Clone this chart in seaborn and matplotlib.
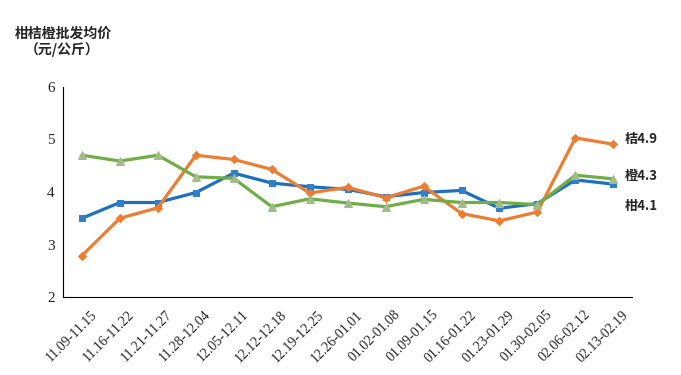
import pandas as pd
import matplotlib.pyplot as plt
import matplotlib.transforms as mtransforms
import seaborn as sns

# weekly periods
periods = ["11.09-11.15", "11.16-11.22", "11.21-11.27", "11.28-12.04", "12.05-12.11",
           "12.12-12.18", "12.19-12.25", "12.26-01.01", "01.02-01.08", "01.09-01.15",
           "01.16-01.22", "01.23-01.29", "01.30-02.05", "02.06-02.12", "02.13-02.19"]

# wholesale average prices (yuan/kg)
gan = [3.50, 3.80, 3.80, 3.99, 4.36, 4.17, 4.10, 4.05, 3.91, 3.99, 4.03, 3.69, 3.78, 4.23, 4.15]
ju = [2.79, 3.50, 3.70, 4.70, 4.62, 4.43, 3.98, 4.09, 3.89, 4.11, 3.59, 3.45, 3.62, 5.03, 4.91]
cheng = [4.70, 4.59, 4.70, 4.29, 4.26, 3.72, 3.87, 3.79, 3.72, 3.86, 3.80, 3.80, 3.76, 4.32, 4.25]

end_labels = {"柑": "柑4.1", "桔": "桔4.9", "橙": "橙4.3"}

sns.set_style("white")
plt.rcParams['font.family'] = ['Liberation Serif', 'Noto Sans CJK SC', 'DejaVu Sans']

df = pd.DataFrame({
    "idx": list(range(len(periods))) * 3,
    "price": gan + ju + cheng,
    "kind": ["柑"] * len(gan) + ["桔"] * len(ju) + ["橙"] * len(cheng),
})

styles = {
    "柑": dict(color="#1f6fc0", marker="s", mfc="#2f7fcc", ms=5),
    "桔": dict(color="#ed7d31", marker="D", mfc="#ed7d31", ms=4.5),
    "橙": dict(color="#70ad47", marker="^", mfc="#a3bb8a", ms=6),
}
label_offset = {"柑": -16, "桔": 4, "橙": 2}

fig = plt.figure(figsize=(6.81, 3.75), dpi=100)
ax = fig.add_axes([0.0925, 0.208, 0.836, 0.56])

for kind in ["柑", "桔", "橙"]:
    st = styles[kind]
    sub = df[df["kind"] == kind]
    sns.lineplot(data=sub, x="idx", y="price", ax=ax, color=st["color"], linewidth=2.3,
                 marker=st["marker"], markersize=st["ms"], markerfacecolor=st["mfc"],
                 markeredgecolor=st["mfc"], legend=False)
    last = sub["price"].iloc[-1]
    ax.annotate(end_labels[kind], xy=(len(periods) - 1, last), xytext=(8, label_offset[kind]),
                textcoords="offset points", va="center", ha="left", fontsize=9.5,
                fontweight="bold", family=['Noto Sans CJK SC', 'DejaVu Sans'], annotation_clip=False)

ax.set_xlim(-0.5, len(periods) - 0.5)
ax.set_ylim(2, 6)
ax.set_yticks([2, 3, 4, 5, 6])
ax.set_xticks([i - 0.5 for i in range(len(periods) + 1)], minor=False)
ax.set_xticklabels([])
ax.set_xticks(range(len(periods)), minor=True)
ax.set_xticklabels(periods, minor=True, rotation=45, ha="right", rotation_mode="anchor", fontsize=10)
ax.tick_params(axis="x", which="major", direction="in", length=5, width=0.8, color="black")
ax.tick_params(axis="x", which="minor", length=0, pad=8)
ax.tick_params(axis="y", direction="out", length=4, width=0.8, color="black", labelsize=11, pad=2)
shift = mtransforms.ScaledTranslation(8 / 100, 0, fig.dpi_scale_trans)
for lbl in ax.get_xticklabels(minor=True):
    lbl.set_transform(lbl.get_transform() + shift)
ax.set_xlabel("")
ax.set_ylabel("")

for side in ["top", "right"]:
    ax.spines[side].set_visible(False)
for side in ["left", "bottom"]:
    ax.spines[side].set_color("black")
    ax.spines[side].set_linewidth(0.8)

fig.text(0.022, 0.9, "柑桔橙批发均价", fontsize=10, fontweight="bold", family=['Noto Sans CJK SC'])
fig.text(0.036, 0.855, "（元/公斤）", fontsize=10, fontweight="bold", family=['Noto Sans CJK SC'])

fig.savefig("out.png", dpi=100)
